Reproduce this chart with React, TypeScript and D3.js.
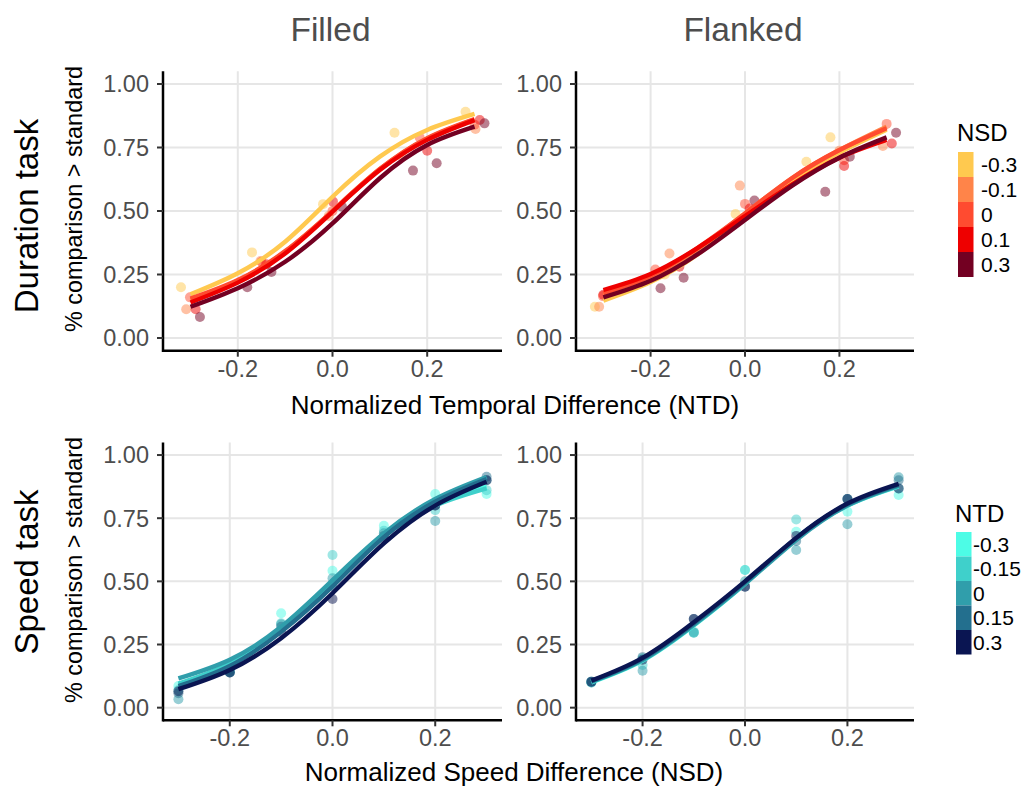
import React from 'react';
import * as d3 from 'd3';

// legend levels and colours
const nsdLevels = ['-0.3', '-0.1', '0', '0.1', '0.3'];
const nsdColors = ['#FFC94F', '#FF8449', '#FF4B30', '#EE0000', '#730022'];
const ntdLevels = ['-0.3', '-0.15', '0', '0.15', '0.3'];
const ntdColors = ['#4DFCE6', '#3FD0CB', '#309EAB', '#236F8E', '#0A1552'];

const colTitles = ['Filled', 'Flanked'];
const yTicks = [0, 0.25, 0.5, 0.75, 1];
const xTicks = [-0.2, 0, 0.2];

// x positions at which the fitted curves were read
const curveX = [-0.3, -0.2, -0.1, 0, 0.1, 0.2, 0.3];

// Duration task, Filled: observed points per NSD level
const durFilledPts = [
  [[-0.32, 0.2], [-0.17, 0.337], [-0.02, 0.527], [0.131, 0.808], [0.281, 0.891]],
  [[-0.309, 0.113], [-0.152, 0.303], [-0.008, 0.48], [0.147, 0.714], [0.302, 0.823]],
  [[-0.301, 0.16], [-0.15, 0.3], [0.0, 0.5], [0.184, 0.79], [0.3, 0.84]],
  [[-0.289, 0.113], [-0.14, 0.29], [0.001, 0.537], [0.2, 0.737], [0.311, 0.858]],
  [[-0.28, 0.083], [-0.18, 0.2], [-0.129, 0.26], [0.02, 0.517], [0.17, 0.659], [0.22, 0.688], [0.321, 0.845]],
];
const durFilledCurves = [
  [0.172, 0.255, 0.379, 0.556, 0.714, 0.819, 0.882],
  [0.15, 0.225, 0.34, 0.5, 0.665, 0.785, 0.86],
  [0.155, 0.228, 0.342, 0.5, 0.665, 0.787, 0.862],
  [0.14, 0.218, 0.333, 0.497, 0.661, 0.78, 0.858],
  [0.123, 0.196, 0.3, 0.451, 0.629, 0.76, 0.832],
];

// Duration task, Flanked
const durFlankedPts = [
  [[-0.318, 0.123], [-0.17, 0.25], [-0.02, 0.488], [0.13, 0.694], [0.181, 0.79]],
  [[-0.309, 0.123], [-0.16, 0.333], [-0.011, 0.6], [0.2, 0.737], [0.292, 0.756]],
  [[-0.301, 0.165], [-0.19, 0.27], [0.0, 0.528], [0.21, 0.7], [0.3, 0.843]],
  [[-0.3, 0.17], [-0.139, 0.281], [0.01, 0.51], [0.21, 0.677], [0.311, 0.766]],
  [[-0.179, 0.196], [-0.13, 0.237], [0.02, 0.541], [0.17, 0.576], [0.222, 0.714], [0.32, 0.808]],
];
const durFlankedCurves = [
  [0.147, 0.22, 0.33, 0.478, 0.62, 0.73, 0.82],
  [0.17, 0.24, 0.35, 0.49, 0.63, 0.74, 0.832],
  [0.177, 0.245, 0.355, 0.49, 0.63, 0.74, 0.826],
  [0.189, 0.252, 0.355, 0.48, 0.605, 0.71, 0.78],
  [0.16, 0.225, 0.33, 0.465, 0.6, 0.71, 0.79],
];

// Speed task, Filled: points per NTD level
const spdFilledPts = [
  [[-0.3, 0.086], [-0.2, 0.15], [-0.1, 0.374], [0, 0.542], [0.1, 0.72], [0.2, 0.846], [0.3, 0.846]],
  [[-0.3, 0.07], [-0.2, 0.14], [-0.1, 0.334], [0, 0.604], [0.1, 0.7], [0.2, 0.782], [0.3, 0.861]],
  [[-0.3, 0.033], [-0.2, 0.14], [-0.1, 0.33], [0, 0.512], [0.1, 0.69], [0.2, 0.739], [0.3, 0.9]],
  [[-0.3, 0.057], [-0.2, 0.139], [-0.1, 0.32], [0, 0.48], [0.1, 0.68], [0.2, 0.8], [0.3, 0.914]],
  [[-0.3, 0.065], [-0.2, 0.139], [-0.1, 0.3], [0, 0.43], [0.1, 0.67], [0.2, 0.8], [0.3, 0.9]],
];
const spdFilledCurves = [
  [0.09, 0.17, 0.31, 0.5, 0.685, 0.81, 0.875],
  [0.095, 0.175, 0.315, 0.5, 0.68, 0.8, 0.868],
  [0.116, 0.19, 0.32, 0.505, 0.69, 0.826, 0.913],
  [0.085, 0.165, 0.3, 0.48, 0.675, 0.815, 0.905],
  [0.073, 0.149, 0.275, 0.453, 0.65, 0.8, 0.894],
];

// Speed task, Flanked
const spdFlankedPts = [
  [[-0.3, 0.103], [-0.2, 0.195], [-0.1, 0.297], [0, 0.545], [0.1, 0.696], [0.2, 0.776], [0.3, 0.842]],
  [[-0.3, 0.1], [-0.2, 0.169], [-0.1, 0.3], [0, 0.545], [0.1, 0.745], [0.2, 0.826], [0.3, 0.868]],
  [[-0.3, 0.1], [-0.2, 0.146], [-0.1, 0.297], [0, 0.5], [0.1, 0.624], [0.2, 0.726], [0.3, 0.912]],
  [[-0.3, 0.103], [-0.2, 0.2], [-0.1, 0.351], [0, 0.479], [0.1, 0.66], [0.2, 0.826], [0.3, 0.9]],
  [[-0.3, 0.103], [-0.2, 0.19], [-0.1, 0.351], [0, 0.479], [0.1, 0.68], [0.2, 0.826], [0.3, 0.868]],
];
const spdFlankedCurves = [
  [0.1, 0.186, 0.325, 0.49, 0.668, 0.8, 0.876],
  [0.104, 0.19, 0.33, 0.494, 0.67, 0.804, 0.88],
  [0.102, 0.188, 0.327, 0.49, 0.664, 0.8, 0.878],
  [0.105, 0.193, 0.333, 0.496, 0.67, 0.805, 0.882],
  [0.107, 0.197, 0.338, 0.5, 0.672, 0.808, 0.886],
];

const FONT = '"Liberation Sans", Arial, Helvetica, sans-serif';
const panelX = [[163, 502], [576, 914]];

const Panel = ({ x0, x1, yRange, xDomain, pts, curves, colors }) => {
  const x = d3.scaleLinear().domain(xDomain).range([x0, x1]);
  const y = d3.scaleLinear().domain([-0.05, 1.05]).range(yRange);
  const line = d3.line<number>()
    .x((_, i) => x(curveX[i]))
    .y(d => y(d))
    .curve(d3.curveNatural);
  const [yb, yt] = yRange;
  return (
    <g>
      {yTicks.map(t => (
        <line key={'gy' + t} x1={x0} x2={x1} y1={y(t)} y2={y(t)} stroke="#E6E6E6" strokeWidth={2} />
      ))}
      {xTicks.map(t => (
        <line key={'gx' + t} x1={x(t)} x2={x(t)} y1={yt} y2={yb} stroke="#E6E6E6" strokeWidth={2} />
      ))}
      {pts.map((series, si) => series.map((p, pi) => (
        <circle key={'p' + si + '-' + pi} cx={x(p[0])} cy={y(p[1])} r={5} fill={colors[si]} fillOpacity={0.5} />
      )))}
      {curves.map((c, si) => (
        <path key={'c' + si} d={line(c) || ''} fill="none" stroke={colors[si]} strokeWidth={4.4} strokeLinecap="butt" />
      ))}
      {/* axes */}
      <line x1={x0} x2={x0} y1={yt} y2={yb + 1.2} stroke="#000" strokeWidth={2.5} />
      <line x1={x0} x2={x1} y1={yb} y2={yb} stroke="#000" strokeWidth={2.5} />
      {yTicks.map(t => (
        <g key={'ty' + t}>
          <line x1={x0 - 6} x2={x0} y1={y(t)} y2={y(t)} stroke="#333" strokeWidth={2} />
          <text x={x0 - 14} y={y(t)} dy="0.36em" textAnchor="end" fontSize={23.5} fill="#4D4D4D" fontFamily={FONT}>
            {d3.format('.2f')(t)}
          </text>
        </g>
      ))}
      {xTicks.map(t => (
        <g key={'tx' + t}>
          <line x1={x(t)} x2={x(t)} y1={yb} y2={yb + 6} stroke="#333" strokeWidth={2} />
          <text x={x(t)} y={yb + 26} textAnchor="middle" fontSize={23.5} fill="#4D4D4D" fontFamily={FONT}>
            {t === 0 ? '0.0' : d3.format('.1f')(t).replace('−', '-')}
          </text>
        </g>
      ))}
    </g>
  );
};

const Legend = ({ x, titleY, keyTop, keyH, title, levels, colors, labelX }) => (
  <g fontFamily={FONT}>
    <text x={x} y={titleY} dy="0.36em" fontSize={24} fill="#000">{title}</text>
    {levels.map((l, i) => (
      <g key={l}>
        <rect x={x + 1} y={keyTop + i * keyH} width={15.5} height={keyH} fill={colors[i]} />
        <text x={labelX} y={keyTop + i * keyH + keyH / 2} dy="0.36em" fontSize={21} fill="#000">{l}</text>
      </g>
    ))}
  </g>
);

export default function App() {
  const topY: [number, number] = [350.7, 71.3];
  const botY: [number, number] = [720.3, 442.4];
  const topDom = [-0.358, 0.358];
  const botDom = [-0.33, 0.33];
  return (
    <svg width={1029} height={788} style={{ position: 'absolute', left: 0, top: 0, background: '#fff' }}>
      {colTitles.map((t, i) => (
        <text key={t} x={(panelX[i][0] + panelX[i][1]) / 2 - 2} y={41} textAnchor="middle" fontSize={33.5} fill="#4D4D4D" fontFamily={FONT}>
          {t}
        </text>
      ))}
      <Panel x0={163} x1={502} yRange={topY} xDomain={topDom} pts={durFilledPts} curves={durFilledCurves} colors={nsdColors} />
      <Panel x0={576} x1={914} yRange={topY} xDomain={topDom} pts={durFlankedPts} curves={durFlankedCurves} colors={nsdColors} />
      <Panel x0={163} x1={502} yRange={botY} xDomain={botDom} pts={spdFilledPts} curves={spdFilledCurves} colors={ntdColors} />
      <Panel x0={576} x1={914} yRange={botY} xDomain={botDom} pts={spdFlankedPts} curves={spdFlankedCurves} colors={ntdColors} />

      {/* row labels and y titles */}
      <text transform="translate(38,216) rotate(-90)" textAnchor="middle" fontSize={33} fill="#000" fontFamily={FONT}>Duration task</text>
      <text transform="translate(38,572) rotate(-90)" textAnchor="middle" fontSize={33} fill="#000" fontFamily={FONT}>Speed task</text>
      <text transform="translate(82,199) rotate(-90)" textAnchor="middle" fontSize={23.4} fill="#000" fontFamily={FONT}>% comparison &gt; standard</text>
      <text transform="translate(82,570) rotate(-90)" textAnchor="middle" fontSize={23.4} fill="#000" fontFamily={FONT}>% comparison &gt; standard</text>

      {/* x titles */}
      <text x={515} y={414} textAnchor="middle" fontSize={26} fill="#000" fontFamily={FONT}>Normalized Temporal Difference (NTD)</text>
      <text x={514} y={781} textAnchor="middle" fontSize={26} fill="#000" fontFamily={FONT}>Normalized Speed Difference (NSD)</text>

      <Legend x={957} titleY={132} keyTop={152} keyH={25} title="NSD" levels={nsdLevels} colors={nsdColors} labelX={981} />
      <Legend x={955} titleY={513} keyTop={532} keyH={24.5} title="NTD" levels={ntdLevels} colors={ntdColors} labelX={973} />
    </svg>
  );
}
